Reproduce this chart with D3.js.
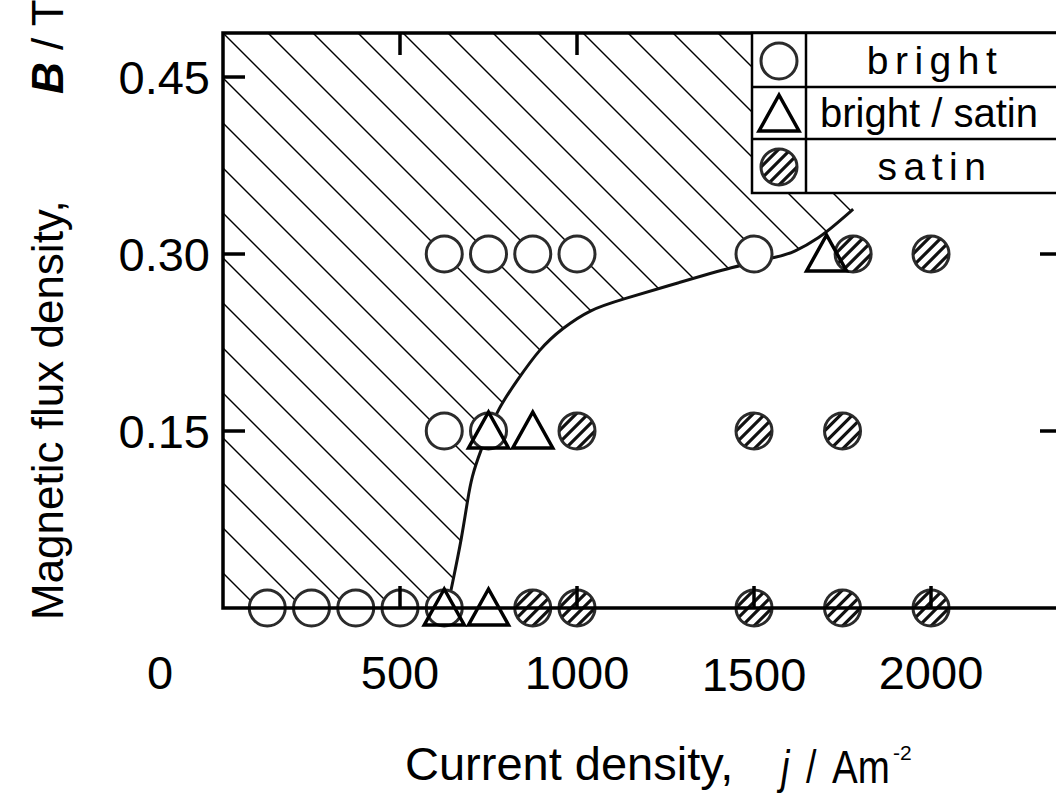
<!DOCTYPE html>
<html>
<head>
<meta charset="utf-8">
<script src="https://cdn.jsdelivr.net/npm/d3@7"></script>
<style>
    body { margin: 0; background: #fff; }
    text { font-family: Arial, "Liberation Sans", sans-serif; fill: #000; }
</style>
</head>
<body>
<div id="chart"></div>
<script>
// --- data -----------------------------------------------------------------
// deposit appearance, [current density j (A m^-2), flux density B (T)]
const brightPts = [[125, 0], [250, 0], [375, 0], [500, 0], [625, 0],
    [625, 0.15], [750, 0.15],
    [625, 0.30], [750, 0.30], [875, 0.30], [1000, 0.30], [1500, 0.30]];
const mixedPts = [[625, 0], [750, 0], [750, 0.15], [875, 0.15], [1705, 0.30]];
const satinPts = [[875, 0], [1000, 0], [1500, 0], [1750, 0], [2000, 0],
    [1000, 0.15], [1500, 0.15], [1750, 0.15], [1780, 0.30], [2000, 0.30]];

// bright / satin boundary line
const boundaryJ = [644, 675, 692, 703, 723, 774, 831, 895, 958, 1037, 1121, 1291, 1438, 1573, 1610, 1686, 1734, 1780];
const boundaryB = [0.015, 0.060, 0.094, 0.111, 0.130, 0.168, 0.193, 0.220, 0.237, 0.253, 0.261, 0.276, 0.289, 0.298, 0.301, 0.314, 0.326, 0.338];

const xTicks = [0, 500, 1000, 1500, 2000];
const yTicks = [0.15, 0.30, 0.45];
const yTickLabels = ["0.15", "0.30", "0.45"];
const legendItems = ["bright", "bright / satin", "satin"];

// --- layout ---------------------------------------------------------------
const W = 1056, H = 796;
const pLeft = 223, pRight = 1062, pTop = 33, pBottom = 608;

const svg = d3.select("#chart").append("svg")
    .attr("width", W)
    .attr("height", H);

const x = d3.scaleLinear().domain([0, 2370]).range([pLeft, pRight]);
const y = d3.scaleLinear().domain([0, 0.4873]).range([pBottom, pTop]);

const defs = svg.append("defs");

// hatched region (bright area) clipped by the boundary curve
const boundary = boundaryJ.map((j, i) => [x(j), y(boundaryB[i])]);
const lineGen = d3.line().curve(d3.curveBasis);
const last = boundary[boundary.length - 1];
const regionPath = lineGen(boundary) +
    `L${last[0]},${pTop}L${pLeft},${pTop}L${pLeft},${pBottom}L${boundary[0][0]},${pBottom}Z`;

defs.append("clipPath").attr("id", "bright-region")
    .append("path").attr("d", regionPath);

const hatch = svg.append("g").attr("clip-path", "url(#bright-region)");
for (let k = -20; k <= 20; k++) {
    const c = pTop + 45 * k;
    hatch.append("line")
        .attr("x1", pLeft).attr("y1", c)
        .attr("x2", pLeft + 700).attr("y2", c + 700)
        .attr("stroke", "#000")
        .attr("stroke-width", 1.4);
}

svg.append("path")
    .attr("d", lineGen(boundary))
    .attr("fill", "none")
    .attr("stroke", "#111")
    .attr("stroke-width", 3);

// --- markers --------------------------------------------------------------
defs.append("clipPath").attr("id", "dot-clip")
    .append("circle").attr("r", 17);

function drawCircle(g) {
    g.append("circle").attr("r", 18)
        .attr("fill", "#fff")
        .attr("stroke", "#2b2b2b")
        .attr("stroke-width", 3);
}

function drawTriangle(g) {
    g.append("path").attr("d", "M0,-19L20,17L-20,17Z")
        .attr("fill", "none")
        .attr("stroke", "#000")
        .attr("stroke-width", 3.5)
        .attr("stroke-linejoin", "miter");
}

function drawSatin(g) {
    drawCircle(g);
    const inner = g.append("g").attr("clip-path", "url(#dot-clip)");
    [-18, -6, 6, 18].forEach(c => {
        inner.append("line")
            .attr("x1", c - 25).attr("y1", 25)
            .attr("x2", c + 25).attr("y2", -25)
            .attr("stroke", "#111")
            .attr("stroke-width", 3.2);
    });
}

const markers = svg.append("g");
function plot(points, draw) {
    markers.selectAll(null)
        .data(points)
        .enter().append("g")
        .attr("transform", d => `translate(${x(d[0])},${y(d[1])})`)
        .each(function() { draw(d3.select(this)); });
}
plot(brightPts, drawCircle);
plot(satinPts, drawSatin);
plot(mixedPts, drawTriangle);

// --- axes frame and ticks -------------------------------------------------
const frame = svg.append("g")
    .attr("stroke", "#000")
    .attr("stroke-width", 3.5)
    .attr("fill", "none");
frame.append("path").attr("d", `M${pRight + 5},${pTop}H${pLeft}V${pBottom}H${pRight + 5}`);

const tickLen = 22;
xTicks.filter(v => v > 0).forEach(v => {
    frame.append("line").attr("x1", x(v)).attr("x2", x(v))
        .attr("y1", pBottom).attr("y2", pBottom - tickLen);
    frame.append("line").attr("x1", x(v)).attr("x2", x(v))
        .attr("y1", pTop).attr("y2", pTop + tickLen);
});
yTicks.forEach(v => {
    frame.append("line").attr("x1", pLeft).attr("x2", pLeft + tickLen)
        .attr("y1", y(v)).attr("y2", y(v));
    frame.append("line").attr("x1", pRight).attr("x2", pRight - tickLen)
        .attr("y1", y(v)).attr("y2", y(v));
});

// tick labels
svg.append("g").selectAll("text")
    .data(xTicks)
    .enter().append("text")
    .attr("x", d => d === 0 ? 160 : x(d))
    .attr("y", d => d === 1500 ? 691 : 689)
    .attr("text-anchor", "middle")
    .attr("font-size", 47)
    .text(d => d);

svg.append("g").selectAll("text")
    .data(yTicks)
    .enter().append("text")
    .attr("x", 210)
    .attr("y", d => y(d))
    .attr("dy", "0.36em")
    .attr("text-anchor", "end")
    .attr("font-size", 47)
    .text((d, i) => yTickLabels[i]);

// axis titles (unit part set in a condensed face, like the original)
const xtitle = svg.append("g").attr("font-size", 47);
xtitle.append("text").attr("x", 405).attr("y", 780).text("Current density,");
xtitle.append("text").attr("transform", "translate(781,783) scale(0.8,1)")
    .attr("font-style", "italic").text("j");
xtitle.append("text").attr("transform", "translate(806,783) scale(0.8,1)").text("/");
xtitle.append("text").attr("transform", "translate(832,783) scale(0.82,1)").text("Am");
xtitle.append("text").attr("x", 893).attr("y", 760)
    .attr("font-size", 21).text("-2");

const yt = svg.append("text")
    .attr("transform", "rotate(-90)")
    .attr("y", 63)
    .attr("font-size", 44);
yt.append("tspan").attr("x", -620).text("Magnetic flux density,");
yt.append("tspan").attr("x", -94).attr("font-weight", "bold").attr("font-style", "italic").text("B");
yt.append("tspan").text(" / T");

// --- legend ---------------------------------------------------------------
const legX = 752, legDiv = 806, rowTops = [33, 87, 139, 193];
const legend = svg.append("g");
legend.append("rect")
    .attr("x", legX).attr("y", pTop)
    .attr("width", pRight + 5 - legX).attr("height", rowTops[3] - pTop)
    .attr("fill", "#fff")
    .attr("stroke", "#000")
    .attr("stroke-width", 2.5);
legend.append("line")
    .attr("x1", legDiv).attr("x2", legDiv)
    .attr("y1", pTop).attr("y2", rowTops[3])
    .attr("stroke", "#000").attr("stroke-width", 2.5);
[rowTops[1], rowTops[2]].forEach(ry => {
    legend.append("line")
        .attr("x1", legX).attr("x2", pRight + 5)
        .attr("y1", ry).attr("y2", ry)
        .attr("stroke", "#000").attr("stroke-width", 2.5);
});

const legendDraw = [drawCircle, drawTriangle, drawSatin];
legendItems.forEach((label, i) => {
    const cy = (rowTops[i] + rowTops[i + 1]) / 2;
    legendDraw[i](legend.append("g").attr("transform", `translate(779,${cy + 1})`));
    const spaced = i !== 1;
    legend.append("text")
        .attr("x", spaced ? 935 : 929)
        .attr("y", cy + 14)
        .attr("text-anchor", "middle")
        .attr("font-size", spaced ? 39 : 40)
        .attr("letter-spacing", spaced ? 6.5 : 0)
        .text(label);
});
</script>
</body>
</html>
